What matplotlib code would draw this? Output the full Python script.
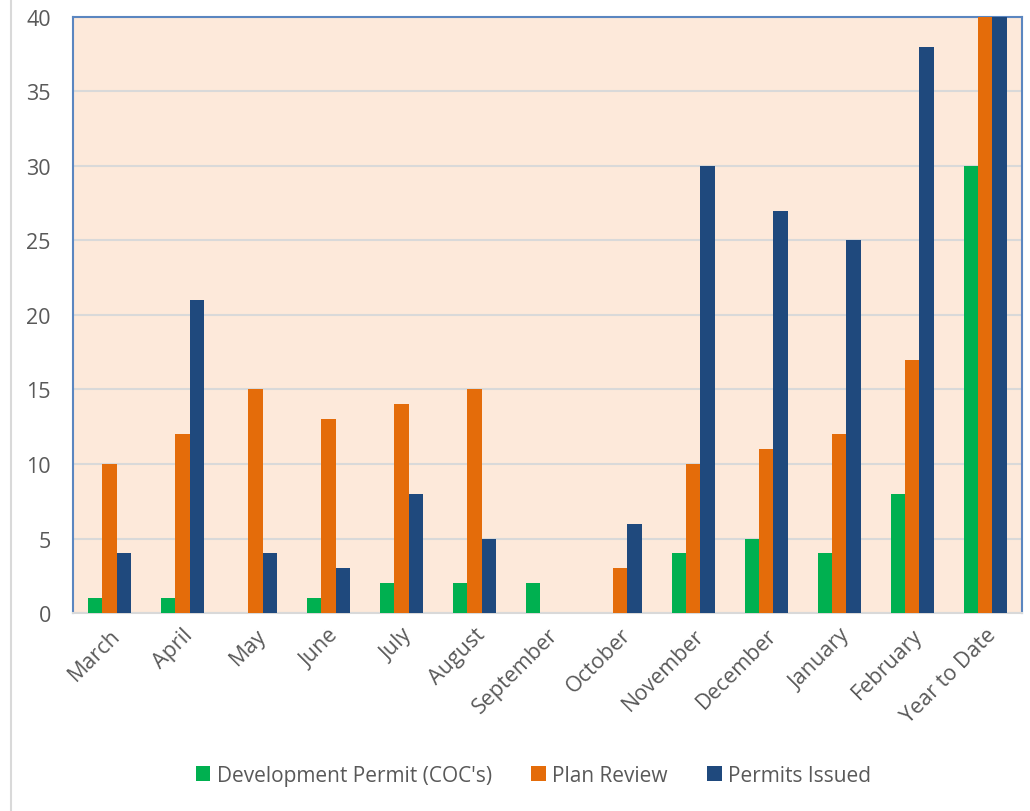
import numpy as np
import matplotlib.pyplot as plt
from matplotlib.lines import Line2D

months = ["March", "April", "May", "June", "July", "August", "September",
          "October", "November", "December", "January", "February", "Year to Date"]
dev_permit = [1, 1, 0, 1, 2, 2, 2, 0, 4, 5, 4, 8, 30]
plan_review = [10, 12, 15, 13, 14, 15, 0, 3, 10, 11, 12, 17, 132]
permits_issued = [4, 21, 4, 3, 8, 5, 0, 6, 30, 27, 25, 38, 171]

plt.rcParams['font.family'] = ['Open Sans', 'DejaVu Sans']

fig = plt.figure(figsize=(10.3, 8.12), dpi=100)
ax = fig.add_axes([0.0709, 0.2438, 0.9211, 0.7342])
ax.set_facecolor('#FDE9DA')

x = np.arange(len(months))
w = 0.195
ax.bar(x - w, dev_permit, w, color='#00B050', label="Development Permit (COC's)", zorder=3)
ax.bar(x, plan_review, w, color='#E46C0A', label="Plan Review", zorder=3)
ax.bar(x + w, permits_issued, w, color='#1F497D', label="Permits Issued", zorder=3)

ax.set_xlim(-0.5, len(months) - 0.5)
ax.set_ylim(0, 40)
ax.set_yticks(range(0, 41, 5))
ax.grid(axis='y', color='#D9D9D9', linewidth=1.5, zorder=0)
ax.set_xticks(x)
ax.set_xticklabels(months, rotation=45, ha='right', rotation_mode='anchor')
ax.tick_params(length=0, labelsize=15.5, labelcolor='#595959')
ax.tick_params(axis='y', pad=16)
ax.tick_params(axis='x', pad=8)

for s in ['left', 'top', 'right']:
    ax.spines[s].set_color('#5B86C0')
    ax.spines[s].set_linewidth(1.5)
ax.spines['bottom'].set_color('#D9D9D9')
ax.spines['bottom'].set_linewidth(1.5)

# outer chart border line on the left
fig.add_artist(Line2D([0.0107, 0.0107], [0, 1], color='#D9D9D9', linewidth=1.5))

fig.legend(loc='center', bbox_to_anchor=(0.518, 0.044), ncol=3, frameon=False,
           fontsize=15, labelcolor='#595959', handlelength=0.7, handleheight=0.7,
           handletextpad=0.3, columnspacing=1.9)

fig.savefig('out.png', dpi=100)
